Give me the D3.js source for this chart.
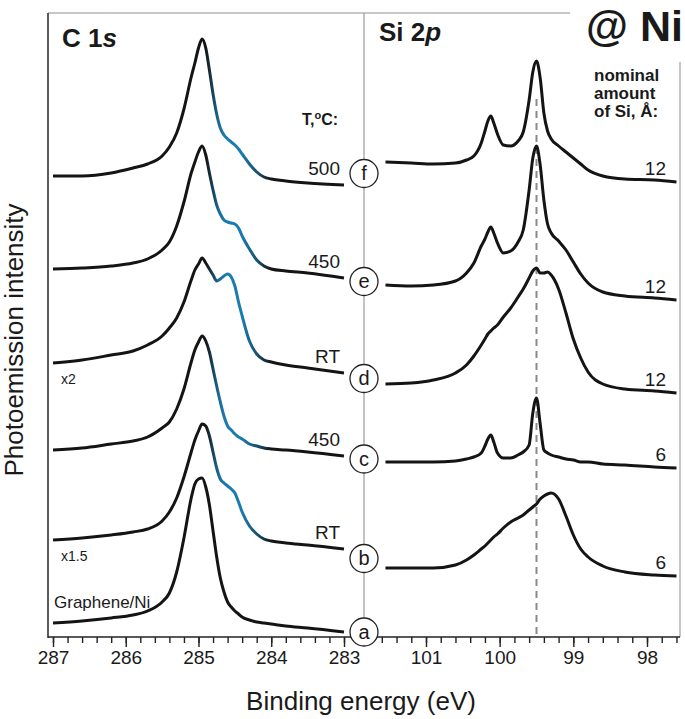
<!DOCTYPE html>
<html>
<head>
<meta charset="utf-8">
<script src="https://cdn.jsdelivr.net/npm/d3@7"></script>
<style>
body { margin: 0; background: #fff; }
svg text { font-family: "Liberation Sans", Arial, sans-serif; fill: #1a1a1a; }
</style>
</head>
<body>
<div id="chart"></div>
<script>
// binding energies (eV) the spectra were read at
var c1sEnergy = [287.0, 286.6, 286.2, 285.9, 285.7, 285.5, 285.4, 285.3, 285.2, 285.1, 285.05, 285.0, 284.95, 284.9, 284.85,
    284.8, 284.75, 284.7, 284.65, 284.6, 284.55, 284.5, 284.45, 284.4, 284.3, 284.2, 284.1, 284.0, 283.8, 283.5, 283.0];
var si2pEnergy = [101.55, 101.2, 100.9, 100.6, 100.45, 100.35, 100.25, 100.2, 100.16, 100.12, 100.08, 100.03, 99.95, 99.85,
    99.75, 99.68, 99.6, 99.55, 99.5, 99.45, 99.4, 99.35, 99.3, 99.2, 99.1, 99.0, 98.9, 98.8, 98.6, 98.3, 97.9, 97.6];

// C 1s intensity (arb. units, already stacked), spectra a..f
var c1sA = [0.14, 0.16, 0.19, 0.22, 0.26, 0.35, 0.44, 0.65, 0.99, 1.39, 1.53, 1.58, 1.59, 1.50, 1.32, 1.06, 0.80, 0.59, 0.45, 0.35,
    0.30, 0.26, 0.23, 0.20, 0.17, 0.15, 0.14, 0.13, 0.11, 0.09, 0.05];
var c1sB = [0.97, 0.99, 1.02, 1.05, 1.08, 1.16, 1.25, 1.39, 1.60, 1.85, 1.97, 2.06, 2.13, 2.11, 2.01, 1.85, 1.69, 1.58, 1.54, 1.51,
    1.48, 1.44, 1.35, 1.25, 1.11, 1.03, 0.98, 0.96, 0.94, 0.92, 0.88];
var c1sC = [1.87, 1.89, 1.93, 1.96, 2.00, 2.09, 2.15, 2.28, 2.48, 2.75, 2.87, 2.95, 3.01, 2.96, 2.85, 2.68, 2.51, 2.35, 2.21, 2.11,
    2.07, 2.03, 2.00, 1.98, 1.93, 1.91, 1.89, 1.88, 1.87, 1.85, 1.81];
var c1sD = [2.74, 2.77, 2.82, 2.86, 2.92, 3.01, 3.09, 3.19, 3.35, 3.57, 3.67, 3.73, 3.79, 3.74, 3.68, 3.62, 3.56, 3.58, 3.61, 3.63,
    3.60, 3.51, 3.35, 3.21, 2.96, 2.83, 2.77, 2.75, 2.72, 2.69, 2.64];
var c1sE = [3.68, 3.69, 3.71, 3.74, 3.78, 3.87, 3.95, 4.11, 4.35, 4.64, 4.75, 4.85, 4.91, 4.82, 4.64, 4.47, 4.32, 4.23, 4.17, 4.15,
    4.14, 4.13, 4.09, 4.01, 3.88, 3.77, 3.71, 3.68, 3.66, 3.64, 3.59];
var c1sF = [4.61, 4.61, 4.64, 4.69, 4.73, 4.81, 4.90, 5.04, 5.28, 5.60, 5.74, 5.89, 5.98, 5.89, 5.67, 5.43, 5.23, 5.09, 5.02, 4.98,
    4.95, 4.92, 4.88, 4.83, 4.73, 4.65, 4.60, 4.58, 4.56, 4.54, 4.52];

// Si 2p intensity, spectra b..f (no Si in a)
var si2pB = [0.69, 0.69, 0.69, 0.72, 0.77, 0.82, 0.88, 0.91, 0.94, 0.97, 1.00, 1.03, 1.09, 1.15, 1.19, 1.22, 1.27, 1.30, 1.33, 1.38,
    1.41, 1.43, 1.44, 1.38, 1.21, 1.02, 0.88, 0.80, 0.71, 0.65, 0.62, 0.61];
var si2pC = [1.75, 1.75, 1.75, 1.76, 1.78, 1.80, 1.84, 1.91, 1.98, 2.02, 1.95, 1.84, 1.79, 1.79, 1.82, 1.85, 1.92, 2.24, 2.39, 2.13,
    1.87, 1.84, 1.82, 1.80, 1.78, 1.77, 1.75, 1.75, 1.73, 1.72, 1.70, 1.69];
var si2pD = [2.53, 2.54, 2.57, 2.64, 2.72, 2.81, 2.92, 2.98, 3.03, 3.06, 3.09, 3.12, 3.20, 3.29, 3.40, 3.48, 3.59, 3.66, 3.69, 3.64,
    3.64, 3.65, 3.62, 3.48, 3.24, 2.98, 2.79, 2.65, 2.53, 2.48, 2.46, 2.44];
var si2pE = [3.52, 3.51, 3.52, 3.56, 3.64, 3.74, 3.91, 3.98, 4.05, 4.10, 4.04, 3.94, 3.84, 3.86, 3.95, 4.07, 4.47, 4.79, 4.91, 4.72,
    4.37, 4.13, 4.04, 3.96, 3.87, 3.75, 3.63, 3.54, 3.45, 3.41, 3.39, 3.37];
var si2pF = [4.75, 4.74, 4.73, 4.74, 4.77, 4.81, 4.94, 5.06, 5.16, 5.21, 5.14, 5.03, 4.92, 4.91, 4.96, 5.05, 5.37, 5.65, 5.76, 5.59,
    5.24, 5.06, 4.98, 4.91, 4.85, 4.79, 4.73, 4.67, 4.61, 4.58, 4.57, 4.55];

var sampleLetters = ["a", "b", "c", "d", "e", "f"];
var temperatures = ["", "RT", "450", "RT", "450", "500"];
var siAmounts = ["", "6", "6", "12", "12", "12"];
var scaleNotes = ["", "x1.5", "", "x2", "", ""];
var cMajorTicks = [287, 286, 285, 284, 283];
var siMajorTicks = [101, 100, 99, 98];
var siRefEnergy = 99.5;

var width = 685, height = 719;
var plotTop = 13, plotBottom = 637, plotLeft = 48, plotRight = 680, divider = 364;
var blue = "#1b7bb0", ink = "#141414";

var svg = d3.select("#chart").append("svg")
    .attr("width", width)
    .attr("height", height);

var xC = d3.scaleLinear().domain([287, 283]).range([53, 344]);
var xSi = d3.scaleLinear().domain([101, 98]).range([426, 647]);
var y = d3.scaleLinear().domain([0, 6.24]).range([plotBottom, plotTop]);

// blue shoulder colouring on C 1s
var grad = svg.append("defs").append("linearGradient")
    .attr("id", "shoulder")
    .attr("gradientUnits", "userSpaceOnUse")
    .attr("x1", xC(284.9)).attr("x2", xC(284.0))
    .attr("y1", 0).attr("y2", 0);
[[0, ink], [0.2, "#1a6b98"], [0.3, blue], [0.55, blue], [0.8, "#174f6d"], [1, ink]].forEach(function (s) {
    grad.append("stop").attr("offset", s[0]).attr("stop-color", s[1]);
});

// frame
function frameLine(x1, y1, x2, y2, col, w) {
    svg.append("line").attr("x1", x1).attr("y1", y1).attr("x2", x2).attr("y2", y2)
        .attr("stroke", col).attr("stroke-width", w);
}
frameLine(plotLeft, plotTop, 570, plotTop, "#b5b5b5", 1.5);
frameLine(plotRight, 62, plotRight, plotBottom, "#b5b5b5", 1.5);
frameLine(divider, plotTop, divider, plotBottom, "#9a9a9a", 1.2);
frameLine(plotLeft, plotTop, plotLeft, plotBottom + 1, "#333", 1.6);
frameLine(plotLeft, plotBottom, plotRight, plotBottom, "#222", 1.6);

// axes: minor ticks every 0.2 eV, labelled major ticks every 1 eV
var cMinor = d3.range(0, 21).map(function (i) { return +(287 - i * 0.2).toFixed(1); });
var siMinor = d3.range(0, 21).map(function (i) { return +(101.6 - i * 0.2).toFixed(1); });

function drawAxis(scale, minor, major) {
    svg.append("g")
        .attr("transform", "translate(0," + plotBottom + ")")
        .call(d3.axisBottom(scale).tickValues(minor).tickSize(6).tickFormat(""))
        .call(function (g) { g.select(".domain").remove(); })
        .selectAll("line").attr("stroke", "#222").attr("stroke-width", 1.4);
    var g = svg.append("g")
        .attr("transform", "translate(0," + plotBottom + ")")
        .call(d3.axisBottom(scale).tickValues(major).tickSize(10).tickPadding(4).tickFormat(d3.format("d")));
    g.select(".domain").remove();
    g.selectAll("line").attr("stroke", "#222").attr("stroke-width", 1.4);
    g.selectAll("text").attr("font-size", 19).style("font-family", "'Liberation Sans', Arial, sans-serif").attr("fill", "#222");
}
drawAxis(xC, cMinor, cMajorTicks);
drawAxis(xSi, siMinor, siMajorTicks);

// reference position of the Si 2p main line
svg.append("line")
    .attr("x1", xSi(siRefEnergy)).attr("x2", xSi(siRefEnergy))
    .attr("y1", y(5.38)).attr("y2", plotBottom)
    .attr("stroke", "#8a8a8a").attr("stroke-width", 2)
    .attr("stroke-dasharray", "7,5");

var c1sSpectra = [c1sA, c1sB, c1sC, c1sD, c1sE, c1sF];
var si2pSpectra = [null, si2pB, si2pC, si2pD, si2pE, si2pF];

var lineC = d3.line()
    .x(function (d) { return xC(d[0]); })
    .y(function (d) { return y(d[1]); })
    .curve(d3.curveMonotoneX);
var lineSi = d3.line()
    .x(function (d) { return xSi(d[0]); })
    .y(function (d) { return y(d[1]); })
    .curve(d3.curveMonotoneX);

c1sSpectra.forEach(function (vals, i) {
    var pts = c1sEnergy.map(function (e, k) { return [e, vals[k]]; });
    svg.append("path")
        .attr("d", lineC(pts))
        .attr("fill", "none")
        .attr("stroke", i == 0 ? ink : "url(#shoulder)")
        .attr("stroke-width", 3)
        .attr("stroke-linejoin", "round");
});

si2pSpectra.forEach(function (vals) {
    if (!vals) return;
    var pts = si2pEnergy.map(function (e, k) { return [e, vals[k]]; });
    svg.append("path")
        .attr("d", lineSi(pts))
        .attr("fill", "none")
        .attr("stroke", ink)
        .attr("stroke-width", 3)
        .attr("stroke-linejoin", "round");
});

// labels next to every spectrum
sampleLetters.forEach(function (letter, i) {
    var cEnd = y(c1sSpectra[i][c1sSpectra[i].length - 1]);
    var siVals = si2pSpectra[i];
    var cy = siVals ? (cEnd + y(siVals[0])) / 2 : cEnd;

    svg.append("circle")
        .attr("cx", divider).attr("cy", cy).attr("r", 14)
        .attr("fill", "#fff").attr("stroke", "#222").attr("stroke-width", 1.3);
    svg.append("text")
        .attr("x", divider).attr("y", cy + 6.5)
        .attr("text-anchor", "middle")
        .attr("font-size", 20)
        .text(letter);

    if (temperatures[i]) {
        svg.append("text")
            .attr("x", 340).attr("y", cEnd - 10)
            .attr("text-anchor", "end")
            .attr("font-size", 19)
            .text(temperatures[i]);
    }
    if (siVals) {
        svg.append("text")
            .attr("x", 666).attr("y", y(siVals[siVals.length - 1]) - 7)
            .attr("text-anchor", "end")
            .attr("font-size", 19)
            .text(siAmounts[i]);
    }
    if (scaleNotes[i]) {
        svg.append("text")
            .attr("x", 61).attr("y", y(c1sSpectra[i][0]) + 21)
            .attr("font-size", 14)
            .text(scaleNotes[i]);
    }
});

svg.append("text")
    .attr("x", 54).attr("y", 608)
    .attr("font-size", 17)
    .text("Graphene/Ni");

// panel titles
var t1 = svg.append("text").attr("x", 62).attr("y", 47).attr("font-size", 26).attr("font-weight", "bold");
t1.append("tspan").text("C 1");
t1.append("tspan").attr("font-style", "italic").text("s");
var t2 = svg.append("text").attr("x", 379).attr("y", 41).attr("font-size", 26).attr("font-weight", "bold");
t2.append("tspan").text("Si 2");
t2.append("tspan").attr("font-style", "italic").text("p");

svg.append("text")
    .attr("x", 586).attr("y", 41)
    .attr("font-size", 43).attr("font-weight", "bold")
    .text("@ Ni");

var tc = svg.append("text")
    .attr("x", 302).attr("y", 125)
    .attr("font-size", 16).attr("font-weight", "bold");
tc.append("tspan").text("T,");
tc.append("tspan").attr("font-size", 11).attr("dy", -6).text("o");
tc.append("tspan").attr("dy", 6).text("C:");

["nominal", "amount", "of Si, Å:"].forEach(function (s, i) {
    svg.append("text")
        .attr("x", 594).attr("y", 81 + i * 18)
        .attr("font-size", 17).attr("font-weight", "bold")
        .text(s);
});

// axis titles
svg.append("text")
    .attr("x", 361).attr("y", 710)
    .attr("text-anchor", "middle")
    .attr("font-size", 26)
    .text("Binding energy (eV)");
svg.append("text")
    .attr("transform", "translate(23,340) rotate(-90)")
    .attr("text-anchor", "middle")
    .attr("font-size", 26)
    .text("Photoemission intensity");
</script>
</body>
</html>
